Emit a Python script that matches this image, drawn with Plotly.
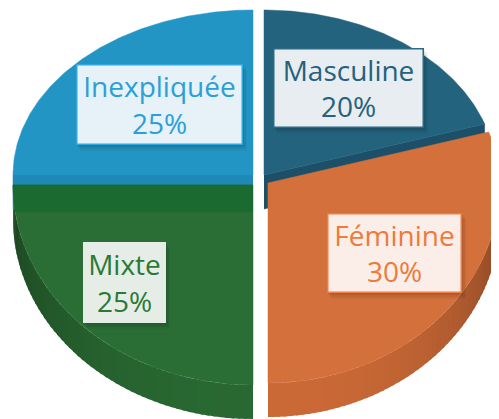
import numpy as np
import plotly.graph_objects as go

# ---- data ----
categories = ["Masculine", "Féminine", "Mixte", "Inexpliquée"]
values = [20, 30, 25, 25]

# ---- styles ----
top_colors = ["#24637E", "#D4703B", "#2B6E35", "#2295C4"]
wall_colors = ["#1D5068", "#D06C38", "#2A6B33", "#1E88B6"]
# slice centre (pixel coords, explosion offsets) and horizontal radius
centers = [(264, 175), (268, 183), (253, 185), (253, 175)]
radii_x = [232, 232, 240, 240]
label_pos = [(348.5, 88), (394.5, 253), (124.5, 282.5), (159.5, 104.5)]
label_box = [(151, 80), (135, 80), (83, 81), (167, 81)]
label_text_col = ["#24627D", "#EE7A3C", "#2A7A35", "#2BA0D8"]
label_bg = ["#E8EDF2", "#FBEEE8", "#E6EDE7", "#E6F1F8"]
label_border = ["#2A6A86", "#F07D40", "#E6EDE7", "#2EA8DE"]

W, H = 499, 419
OFF = 8  # page body margin of the browser
RYT, RYB, D = 165, 200, 34


def rim(cx, cy, rx, th):
    t = np.radians(np.asarray(th, dtype=float))
    x = cx + rx * np.sin(t)
    ry = np.where(np.cos(t) >= 0, RYT, RYB)
    y = cy - ry * np.cos(t)
    return x, y


def shade(hex_col, f):
    h = hex_col.lstrip("#")
    r, g, b = (int(h[i:i + 2], 16) for i in (0, 2, 4))
    return "rgb(%d,%d,%d)" % (r * f, g * f, b * f)


total = sum(values)
cum = np.concatenate([[0], np.cumsum(values)]) / total * 360.0

fig = go.Figure()


def poly(xs, ys, color, lw=0.0):
    fig.add_trace(go.Scatter(x=list(xs), y=list(ys), fill="toself", mode="lines",
                             line=dict(width=lw, color=color), fillcolor=color,
                             hoverinfo="skip", showlegend=False))


# outer walls (front-facing part, 90..270 deg)
STEP = 1.5
for i in range(len(values)):
    a0, a1 = max(cum[i], 90), min(cum[i + 1], 270)
    if a1 <= a0:
        continue
    cx, cy = centers[i]
    rx = radii_x[i]
    edges = np.arange(a0, a1 + 0.001, STEP)
    if edges[-1] < a1:
        edges = np.append(edges, a1)
    for j in range(len(edges) - 1):
        e1 = min(edges[j + 1] + 0.6, a1)
        t = np.linspace(edges[j], e1, 4)
        x, y = rim(cx, cy, rx, t)
        mid = 0.5 * (edges[j] + edges[j + 1])
        f = 0.55 + 0.43 * np.cos(np.radians((mid - 180) * 0.95)) ** 0.8
        col = shade(wall_colors[i], f)
        poly(np.concatenate([x, x[::-1]]), np.concatenate([y, y[::-1] + D]), col)

# radial walls visible through the explosion gaps
for i, side in [(0, 1), (3, 0)]:
    cx, cy = centers[i]
    a = cum[i + side]
    x, y = rim(cx, cy, radii_x[i], a)
    x, y = float(x), float(y)
    poly([cx, x, x, cx], [cy, y, y + D, cy + D], wall_colors[i], 0.5)

# top faces
for i in range(len(values)):
    cx, cy = centers[i]
    t = np.linspace(cum[i], cum[i + 1], 120)
    x, y = rim(cx, cy, radii_x[i], t)
    poly(np.concatenate([[cx], x, [cx]]), np.concatenate([[cy], y, [cy]]), top_colors[i], 0.5)

# darker band on top of Mixte
cx, cy = centers[2]
band = 27
th_b = 180 + np.degrees(np.arccos(band / RYB))
t = np.linspace(cum[3], th_b, 20)
x, y = rim(cx, cy, radii_x[2], t)
poly(np.concatenate([[cx], x, [cx]]), np.concatenate([[cy], y, [cy + band]]), "#1B6B30", 0.5)

# labels with a soft shadow
for i in range(len(values)):
    pct = values[i] / total * 100
    lx, ly = label_pos[i]
    bw, bh = label_box[i]
    for dx, dy, a in [(1, 2, 0.07), (3, 4, 0.06), (4, 6, 0.04)]:
        fig.add_shape(type="rect", xref="x", yref="y", layer="above",
                      x0=lx - bw / 2 + dx, x1=lx + bw / 2 + dx,
                      y0=ly - bh / 2 + dy, y1=ly + bh / 2 + dy,
                      line=dict(width=0), fillcolor="rgba(0,0,0,%.2f)" % a)
    fig.add_annotation(x=lx, y=ly, xref="x", yref="y",
                       text="%s<br>%d%%" % (categories[i], round(pct)),
                       showarrow=False, xanchor="center", yanchor="middle",
                       width=bw - 3, height=bh - 3, align="center", valign="middle",
                       font=dict(family="Open Sans", size=28, color=label_text_col[i]),
                       bgcolor=label_bg[i], bordercolor=label_border[i],
                       borderwidth=1.5, borderpad=0)

fig.update_layout(width=W, height=H, margin=dict(l=0, r=0, t=0, b=0),
                  paper_bgcolor="white", plot_bgcolor="white",
                  xaxis=dict(range=[OFF, W + OFF], visible=False, fixedrange=True),
                  yaxis=dict(range=[H + OFF, OFF], visible=False, fixedrange=True))
fig.write_html("out.html")
